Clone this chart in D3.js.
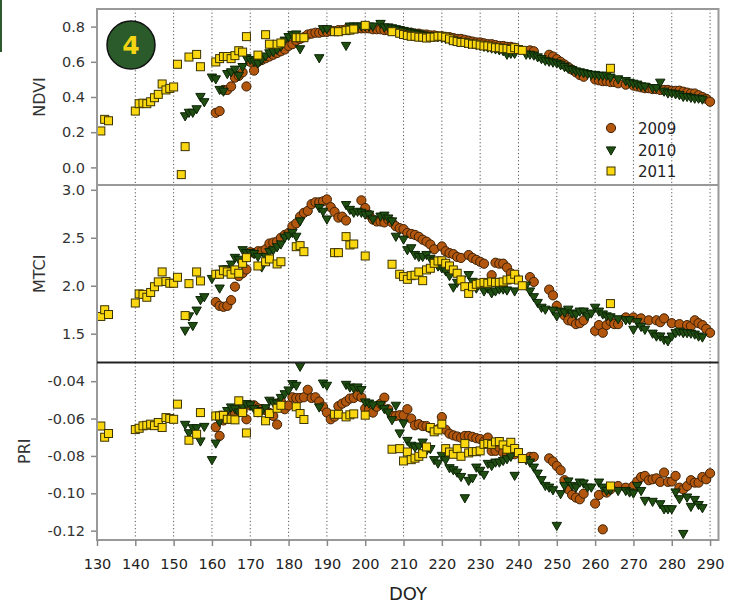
<!DOCTYPE html>
<html>
<head>
<meta charset="utf-8">
<script src="https://cdn.jsdelivr.net/npm/d3@7"></script>
<style>
  body { margin: 0; background: #fff; }
  svg { display: block; }
  text { font-family: "DejaVu Sans", Verdana, sans-serif; }
</style>
</head>
<body>
<svg width="744" height="605"></svg>
<script>
// ---- data ----
const xTicks = [130, 140, 150, 160, 170, 180, 190, 200, 210, 220, 230, 240, 250, 260, 270, 280, 290];
const ndviTicks = [0.0, 0.2, 0.4, 0.6, 0.8];
const mtciTicks = [1.5, 2.0, 2.5, 3.0];
const priTicks = [-0.12, -0.10, -0.08, -0.06, -0.04];
const yearNames = ["2009", "2010", "2011"];

const doy09 = [161,162,163,164,165,166,167,168,169,170,171,172,173,174,175,176,177,178,179,180,
  181,182,183,184,185,186,187,188,189,190,191,192,193,194,195,196,197,198,199,200,
  201,202,203,204,205,206,207,208,209,210,211,212,213,214,215,216,217,218,219,220,
  221,222,223,224,225,226,227,228,229,230,231,232,233,234,235,236,237,238,239,
  243,244,248,249,250,251,252,253,254,255,256,257,260,261,262,263,264,265,266,268,
  270,271,272,273,274,275,276,277,278,279,280,281,282,283,284,285,286,287,288,289,290];
const ndvi09 = [0.31,0.32,0.44,0.44,0.46,0.51,0.52,0.54,0.46,0.60,0.55,0.60,0.61,0.62,0.63,0.64,0.65,0.66,0.67,0.69,
  0.70,0.72,0.73,0.74,0.755,0.76,0.765,0.765,0.77,0.77,0.775,0.775,0.78,0.78,0.785,0.785,0.79,0.79,0.79,0.79,
  0.79,0.785,0.785,0.785,0.78,0.78,0.775,0.775,0.77,0.77,0.765,0.765,0.76,0.76,0.755,0.755,0.75,0.75,0.745,0.745,
  0.74,0.74,0.735,0.73,0.73,0.725,0.72,0.715,0.71,0.71,0.705,0.70,0.70,0.695,0.69,0.69,0.685,0.685,0.68,
  0.665,0.66,0.64,0.63,0.615,0.60,0.585,0.57,0.555,0.54,0.525,0.515,0.50,0.495,0.49,0.49,0.485,0.485,0.478,0.47,
  0.465,0.46,0.455,0.45,0.45,0.445,0.445,0.44,0.44,0.44,0.435,0.435,0.436,0.43,0.425,0.42,0.42,0.41,0.40,0.39,0.373];
const mtci09 = [1.83,1.79,1.78,1.79,1.85,1.99,2.10,2.13,2.17,2.35,2.34,2.36,2.36,2.38,2.44,2.45,2.46,2.50,2.53,2.55,
  2.62,2.65,2.72,2.76,2.78,2.85,2.87,2.87,2.88,2.90,2.82,2.77,2.71,2.72,2.68,null,null,null,2.89,2.81,
  2.74,2.69,2.67,2.67,2.66,2.69,2.66,2.62,2.60,2.59,2.55,2.54,2.53,2.51,2.48,2.46,2.43,2.38,null,2.41,
  2.36,2.34,2.33,2.30,2.29,null,2.32,2.29,2.27,2.25,2.23,null,2.11,2.24,2.23,2.23,2.19,2.13,2.10,
  2.09,2.04,1.96,1.90,1.79,null,1.69,1.64,1.63,1.60,1.61,1.64,1.53,1.59,1.51,1.59,1.63,1.60,1.60,1.67,
  1.67,null,1.66,null,1.64,null,1.64,1.62,1.66,null,1.61,null,1.60,null,1.59,1.58,1.64,1.61,1.59,1.55,1.51];
const pri09 = [-0.0646,-0.0693,-0.0610,-0.0600,-0.0585,-0.0570,-0.0555,-0.0560,-0.0604,-0.0530,-0.0529,-0.0545,-0.0550,-0.0555,-0.0570,-0.0586,-0.0632,-0.0509,-0.0550,-0.0530,
  -0.0486,-0.0490,-0.0490,-0.0486,-0.0446,-0.0490,-0.0486,-0.0509,-0.0537,-0.0568,-0.0604,-0.0590,-0.0534,-0.0520,-0.0509,-0.0493,-0.0490,-0.0473,-0.0486,-0.0546,
  -0.0550,-0.0568,-0.0537,-0.0520,-0.0488,-0.0550,-0.0586,-0.0586,-0.0582,-0.0582,-0.0550,-0.0600,-0.0636,-0.0630,-0.0640,-0.0640,-0.0652,-0.0662,-0.0657,-0.0592,
  -0.0660,-0.0681,-0.0690,-0.0696,-0.0702,-0.0693,-0.0693,-0.0698,-0.0705,-0.0710,-0.0723,-0.0702,-0.0773,-0.0773,-0.0755,-0.0782,-0.0791,-0.0773,-0.0791,
  -0.0805,-0.0805,-0.0813,-0.0830,-0.0854,-0.0877,-0.0930,-0.0979,-0.1009,-0.1023,-0.1032,-0.1002,-0.1055,-0.1009,-0.1193,-0.0996,-0.0979,null,-0.0961,-0.0970,
  -0.0961,-0.0937,-0.0913,-0.0907,-0.0930,-0.0925,-0.0920,-0.0939,-0.0889,-0.0939,-0.0937,-0.0907,-0.0970,-0.0979,-0.0961,-0.0930,-0.0943,-0.0943,-0.0913,-0.0925,-0.0893];

const doy10 = [153,154,155,156,157,158,160,161,162,163,164,165,166,167,168,169,170,171,172,173,
  174,175,176,177,178,179,180,181,182,183,188,189,190,195,196,197,198,199,200,201,
  202,204,205,206,207,208,209,210,211,212,213,214,215,216,217,218,219,220,221,222,
  223,224,225,226,227,228,229,230,231,232,233,234,235,236,237,238,239,242,243,244,
  245,246,247,248,249,250,251,252,253,254,255,256,257,258,259,260,261,262,263,264,
  266,268,269,270,271,272,273,275,276,277,278,279,280,281,282,283,284,285,286,287,288];
const ndvi10 = [0.29,0.31,0.31,0.33,0.40,0.37,0.51,0.50,0.44,0.43,0.53,0.54,0.555,0.52,0.57,0.62,0.61,0.60,0.59,0.61,
  0.63,0.648,0.655,0.667,0.686,0.72,0.74,0.752,0.755,0.671,0.62,0.785,0.785,0.69,0.80,0.80,0.80,0.80,0.80,0.80,
  0.80,0.815,0.795,0.795,0.79,0.785,0.78,0.775,0.77,0.765,0.76,0.755,0.75,0.745,0.745,0.74,0.74,0.735,0.73,0.725,
  0.72,0.715,0.71,0.705,0.70,0.70,0.695,0.69,0.685,0.68,0.675,0.67,0.665,0.66,0.64,0.645,0.645,0.64,0.64,0.635,
  0.625,0.615,0.605,0.60,0.595,0.59,0.58,0.57,0.56,0.553,0.545,0.54,0.535,0.53,0.525,0.525,0.52,0.52,0.52,0.51,
  0.50,0.49,0.48,0.475,0.47,0.46,0.458,0.45,0.45,0.481,0.43,0.42,0.42,0.415,0.41,0.40,0.40,0.395,0.39,0.39,0.385];
const mtci10 = [1.53,1.68,1.58,1.74,1.85,1.88,2.07,null,1.97,2.17,2.17,2.22,2.29,2.27,2.37,2.34,2.34,2.33,2.30,2.19,
  2.30,2.35,2.37,2.40,2.43,2.50,2.52,2.55,2.51,2.67,2.81,2.77,2.69,2.84,2.79,2.76,2.77,2.76,2.74,2.74,
  2.69,2.72,2.73,2.70,2.67,2.51,null,2.48,2.37,2.39,2.32,2.30,2.30,2.32,2.28,2.26,2.20,2.18,2.15,2.10,
  1.98,2.03,2.06,null,2.11,2.04,1.97,2.01,1.94,1.97,1.92,1.94,1.96,1.96,1.95,null,1.94,2.00,1.94,1.88,
  1.82,1.77,1.75,null,1.74,1.68,1.73,1.72,1.75,1.71,1.70,1.73,1.73,1.68,1.71,1.77,1.73,1.70,1.68,1.67,
  1.65,1.64,1.64,1.54,1.62,1.57,1.54,1.50,1.47,1.47,1.435,1.42,1.47,1.505,1.52,1.505,1.505,1.50,1.49,1.47,1.46];
const pri10 = [-0.0634,-0.0679,-0.0652,-0.0652,-0.0723,-0.0645,-0.0823,-0.0734,-0.0620,-0.0580,-0.0560,-0.0541,-0.0550,-0.0568,-0.0540,-0.0523,-0.0530,-0.0550,-0.0568,-0.0560,
  -0.0545,-0.0505,-0.0515,-0.0520,-0.0490,-0.0470,-0.0450,-0.0416,-0.0425,-0.0323,-0.0541,-0.0413,-0.0425,-0.0420,-0.0434,-0.0440,-0.0434,-0.0448,-0.0514,-0.0520,
  -0.0530,-0.0527,-0.0550,-0.0568,-0.0609,-0.0532,-0.0680,-0.0627,-0.0720,-0.0746,-0.0755,-0.0750,-0.0729,-0.0773,-0.0764,-0.0823,-0.0841,-0.0800,-0.0823,-0.0866,
  -0.0877,-0.0890,-0.0913,-0.1027,-0.0934,-0.0920,-0.0863,-0.0880,-0.0902,-0.0843,-0.0854,-0.0836,-0.0836,-0.0827,-0.0818,-0.0805,-0.0907,-0.0823,-0.0836,-0.0863,
  -0.0895,-0.0930,-0.0961,-0.0970,-0.0984,-0.1175,-0.1005,-0.0961,-0.0937,-0.0961,-0.0970,-0.0943,-0.0948,-0.0970,-0.0970,null,-0.0943,-0.0970,-0.0988,-0.0984,
  -0.0988,-0.0988,-0.0996,-0.1002,-0.0961,-0.0988,-0.1041,-0.1046,null,-0.1059,-0.1086,-0.1086,-0.1086,-0.0996,-0.1032,-0.1218,-0.1023,-0.1073,-0.1036,-0.1063,-0.1080];

const doy11 = [131,132,133,140,141,142,143,144,145,146,147,148,149,150,151,152,153,154,156,157,
  161,162,163,164,165,166,167,168,169,172,174,175,177,178,182,183,184,192,193,195,
  196,197,200,207,209,210,211,212,213,214,215,216,217,218,219,220,221,222,223,224,
  225,226,227,228,229,230,231,232,233,234,235,236,237,238,239,240,241,264];
const ndvi11 = [0.207,0.273,0.265,0.320,0.362,0.365,0.362,0.373,0.396,0.415,0.474,0.44,0.449,0.457,0.586,-0.041,0.118,0.627,0.642,0.572,
  0.599,0.618,0.63,0.63,0.618,0.635,0.663,0.655,0.743,0.638,0.754,0.70,0.70,0.707,0.737,0.737,0.737,0.771,0.771,0.777,
  0.78,0.786,0.807,0.771,0.762,0.755,0.75,0.745,0.745,0.74,0.74,0.735,0.74,0.74,0.745,0.745,0.74,0.73,0.72,0.715,
  0.71,0.71,0.705,0.70,0.70,0.695,0.69,0.69,0.685,0.68,0.68,0.675,0.675,0.67,0.68,0.67,0.665,0.563];
const mtci11 = [1.68,1.75,1.70,1.82,1.915,1.91,1.88,1.93,1.99,2.04,2.144,2.045,2.026,2.026,2.088,null,1.689,2.022,2.144,2.05,
  2.12,2.12,2.157,2.144,2.12,2.165,2.13,2.234,2.293,2.206,2.25,2.279,2.227,2.25,2.407,2.418,2.355,2.345,2.345,2.512,
  2.425,2.435,2.31,2.224,2.12,2.095,2.067,2.105,2.11,2.144,2.053,2.165,2.182,2.234,2.258,2.26,2.234,2.206,2.165,2.13,
  2.06,1.99,1.92,1.99,2.015,2.026,2.035,2.026,2.04,2.035,2.035,2.04,2.06,2.067,2.12,2.06,2.00,1.814];
const pri11 = [-0.0640,-0.0700,-0.0680,-0.0659,-0.0652,-0.0639,-0.0636,-0.0630,-0.0638,-0.0621,-0.0648,-0.0595,-0.0600,-0.0604,-0.0523,null,null,-0.0716,-0.0684,-0.0568,
  -0.0586,-0.0586,-0.0583,-0.0604,-0.0604,-0.0607,-0.0505,-0.0568,-0.0677,-0.0568,-0.0612,-0.0573,-0.0545,-0.0529,-0.0537,-0.0573,-0.0605,-0.0577,-0.0577,-0.0591,
  -0.0580,-0.0575,-0.0582,-0.0764,-0.0761,-0.0827,-0.0779,-0.0820,-0.0812,-0.0802,-0.0788,-0.0752,-0.0648,-0.0671,-0.0661,-0.0630,-0.0761,-0.0779,-0.0791,-0.0761,
  -0.0802,-0.0734,-0.0784,-0.0777,-0.0777,-0.0773,-0.0738,-0.0734,-0.0738,-0.0725,-0.0723,-0.0741,-0.0764,-0.0727,-0.0760,-0.0782,-0.0814,-0.0961];

// ---- layout ----
const svg = d3.select("svg");
const left = 97, right = 718.5;

const x = d3.scaleLinear().domain([130, 292.2]).range([left, right]);

const panels = [
  { key: "ndvi", title: "NDVI", domain: [-0.1, 0.9], top: 9, bottom: 185, ticks: ndviTicks, digits: 1, titleX: 45 },
  { key: "mtci", title: "MTCI", domain: [1.2, 3.05], top: 185, bottom: 362.5, ticks: mtciTicks, digits: 1, titleX: 45 },
  { key: "pri", title: "PRI", domain: [-0.125, -0.03], top: 362.5, bottom: 540, ticks: priTicks, digits: 2, titleX: 30 }
];

const years = [
  { name: yearNames[0], doy: doy09, ndvi: ndvi09, mtci: mtci09, pri: pri09, shape: "circle", fill: "#b3560e", stroke: "#3d2206" },
  { name: yearNames[1], doy: doy10, ndvi: ndvi10, mtci: mtci10, pri: pri10, shape: "tri", fill: "#1f4d12", stroke: "#0c2405" },
  { name: yearNames[2], doy: doy11, ndvi: ndvi11, mtci: mtci11, pri: pri11, shape: "square", fill: "#fbd70f", stroke: "#3b3300" }
];

function marker(sel, shape) {
  if (shape === "circle") {
    return sel.append("circle").attr("r", 4.6);
  } else if (shape === "tri") {
    return sel.append("path").attr("d", "M-4.7,-3.6L4.7,-3.6L0,4.6Z");
  }
  return sel.append("rect").attr("x", -4).attr("y", -4).attr("width", 8).attr("height", 8);
}

// left edge strip from the cropped figure
svg.append("rect").attr("x", 0).attr("y", 0).attr("width", 2).attr("height", 52).attr("fill", "#2d5a2d");

panels.forEach(p => {
  const y = d3.scaleLinear().domain(p.domain).range([p.bottom, p.top]);
  const g = svg.append("g");

  g.append("rect")
    .attr("x", left).attr("y", p.top)
    .attr("width", right - left).attr("height", p.bottom - p.top)
    .attr("fill", "#fff");

  // dotted vertical grid
  g.selectAll(".grid")
    .data(xTicks.slice(1))
    .enter().append("line")
    .attr("x1", d => x(d)).attr("x2", d => x(d))
    .attr("y1", p.top).attr("y2", p.bottom)
    .attr("stroke", "#555")
    .attr("stroke-width", 1)
    .attr("stroke-dasharray", "1.2,2.4");

  // points
  years.forEach(yr => {
    const pts = yr.doy.map((d, i) => ({ d: d, v: yr[p.key][i] })).filter(o => o.v !== null);
    const m = g.selectAll(null)
      .data(pts)
      .enter().append("g")
      .attr("transform", o => "translate(" + x(o.d) + "," + y(o.v) + ")");
    marker(m, yr.shape)
      .attr("fill", yr.fill)
      .attr("stroke", yr.stroke)
      .attr("stroke-width", 1);
  });

  // y axis
  const ax = g.append("g")
    .attr("transform", "translate(" + left + ",0)")
    .call(d3.axisLeft(y).tickValues(p.ticks).tickSize(6).tickSizeOuter(0).tickPadding(6)
      .tickFormat(d => d.toFixed(p.digits)));
  ax.select(".domain").remove();
  ax.selectAll("line").attr("stroke", "#888").attr("stroke-width", 1.5);
  ax.selectAll("text").attr("fill", "#333").style("font-size", "14.5px")
    .style("font-family", "'DejaVu Sans', Verdana, sans-serif");

  g.append("text")
    .attr("transform", "translate(" + p.titleX + "," + ((p.top + p.bottom) / 2) + ") rotate(-90)")
    .attr("text-anchor", "middle")
    .attr("fill", "#333")
    .style("font-size", "16px")
    .text(p.title);
});

// frame lines
const frame = svg.append("g").attr("fill", "none");
frame.append("rect")
  .attr("x", left).attr("y", 9)
  .attr("width", right - left).attr("height", 540 - 9)
  .attr("stroke", "#999").attr("stroke-width", 2);
frame.append("line")
  .attr("x1", left).attr("x2", right).attr("y1", 185).attr("y2", 185)
  .attr("stroke", "#999").attr("stroke-width", 2);
frame.append("line")
  .attr("x1", left).attr("x2", right).attr("y1", 362.5).attr("y2", 362.5)
  .attr("stroke", "#222").attr("stroke-width", 2);

// x axis
const xa = svg.append("g")
  .attr("transform", "translate(0,540)")
  .call(d3.axisBottom(x).tickValues(xTicks).tickSize(6).tickSizeOuter(0).tickPadding(13));
xa.select(".domain").remove();
xa.selectAll("line").attr("stroke", "#888").attr("stroke-width", 1.5);
xa.selectAll("text").attr("fill", "#222").style("font-size", "14.5px")
  .style("font-family", "'DejaVu Sans', Verdana, sans-serif");

svg.append("text")
  .attr("x", 408).attr("y", 600)
  .attr("text-anchor", "middle")
  .attr("fill", "#222")
  .style("font-size", "18px")
  .text("DOY");

// legend
const legend = svg.append("g");
years.forEach((yr, i) => {
  const row = legend.append("g").attr("transform", "translate(611," + [128, 150.5, 171][i] + ")");
  marker(row, yr.shape).attr("fill", yr.fill).attr("stroke", yr.stroke).attr("stroke-width", 1);
  row.append("text")
    .attr("x", 27).attr("y", 5.5)
    .attr("fill", "#222")
    .style("font-size", "15px")
    .text(yr.name);
});

// panel badge
svg.append("circle")
  .attr("cx", 131).attr("cy", 45).attr("r", 24)
  .attr("fill", "#2b5a2b").attr("stroke", "#111").attr("stroke-width", 1.5);
svg.append("text")
  .attr("x", 131).attr("y", 54)
  .attr("text-anchor", "middle")
  .attr("fill", "#f4d514")
  .style("font-size", "25px")
  .style("font-weight", "bold")
  .text("4");
</script>
</body>
</html>
